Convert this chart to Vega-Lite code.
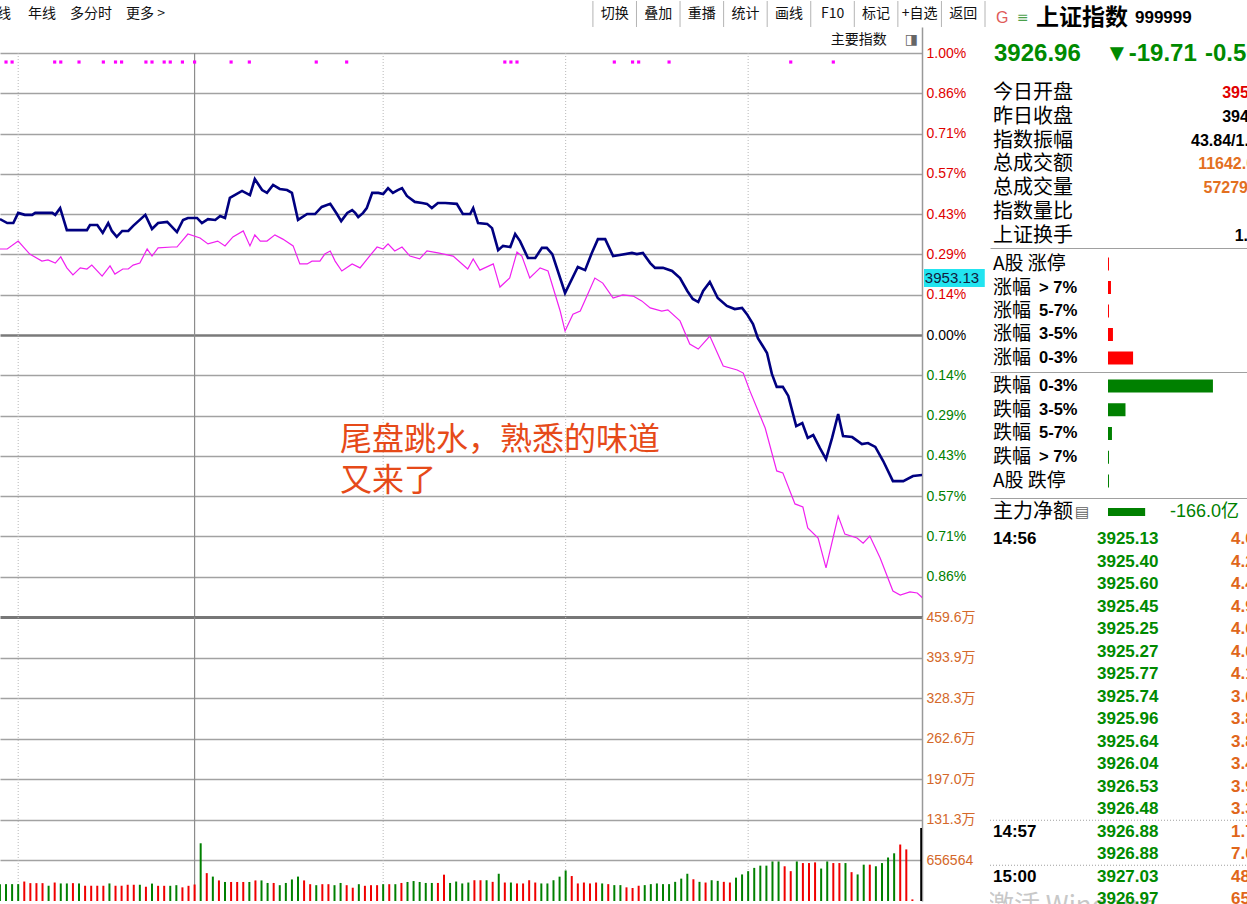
{
  "$schema": "https://vega.github.io/schema/vega-lite/v6.json",
  "background": "#ffffff",
  "padding": 0,
  "autosize": {"type": "pad"},
  "config": {"view": {"stroke": null}},
  "datasets": {
    "index": [{"m":88.0,"pct":0.411},{"m":89.2,"pct":0.397},{"m":90.2,"pct":0.397},{"m":91.0,"pct":0.433},{"m":92.1,"pct":0.426},{"m":93.3,"pct":0.426},{"m":93.8,"pct":0.433},{"m":96.6,"pct":0.433},{"m":97.1,"pct":0.426},{"m":97.9,"pct":0.45},{"m":99.0,"pct":0.372},{"m":102.3,"pct":0.372},{"m":102.8,"pct":0.39},{"m":104.0,"pct":0.39},{"m":104.9,"pct":0.362},{"m":105.8,"pct":0.397},{"m":106.4,"pct":0.369},{"m":107.2,"pct":0.348},{"m":108.1,"pct":0.369},{"m":109.1,"pct":0.369},{"m":109.9,"pct":0.387},{"m":111.9,"pct":0.426},{"m":113.0,"pct":0.376},{"m":114.0,"pct":0.397},{"m":115.5,"pct":0.401},{"m":117.1,"pct":0.365},{"m":118.1,"pct":0.408},{"m":118.9,"pct":0.415},{"m":120.4,"pct":0.415},{"m":121.2,"pct":0.397},{"m":122.2,"pct":0.411},{"m":123.4,"pct":0.408},{"m":124.2,"pct":0.422},{"m":125.0,"pct":0.415},{"m":125.8,"pct":0.486},{"m":127.8,"pct":0.511},{"m":129.1,"pct":0.496},{"m":129.9,"pct":0.553},{"m":131.1,"pct":0.514},{"m":131.9,"pct":0.504},{"m":132.9,"pct":0.532},{"m":134.0,"pct":0.518},{"m":135.2,"pct":0.514},{"m":136.0,"pct":0.504},{"m":137.0,"pct":0.408},{"m":138.5,"pct":0.429},{"m":139.8,"pct":0.429},{"m":140.9,"pct":0.454},{"m":142.3,"pct":0.465},{"m":143.4,"pct":0.429},{"m":144.1,"pct":0.404},{"m":145.1,"pct":0.433},{"m":145.9,"pct":0.443},{"m":146.4,"pct":0.433},{"m":146.9,"pct":0.418},{"m":147.7,"pct":0.433},{"m":148.3,"pct":0.45},{"m":149.2,"pct":0.504},{"m":150.2,"pct":0.504},{"m":151.0,"pct":0.5},{"m":151.8,"pct":0.521},{"m":152.6,"pct":0.504},{"m":153.4,"pct":0.514},{"m":154.1,"pct":0.521},{"m":154.9,"pct":0.493},{"m":156.2,"pct":0.472},{"m":157.4,"pct":0.468},{"m":158.2,"pct":0.465},{"m":159.0,"pct":0.45},{"m":160.0,"pct":0.468},{"m":161.2,"pct":0.468},{"m":163.1,"pct":0.465},{"m":164.1,"pct":0.429},{"m":165.3,"pct":0.429},{"m":165.8,"pct":0.45},{"m":166.6,"pct":0.397},{"m":168.1,"pct":0.394},{"m":168.9,"pct":0.379},{"m":169.9,"pct":0.301},{"m":170.7,"pct":0.316},{"m":171.9,"pct":0.312},{"m":172.7,"pct":0.358},{"m":173.5,"pct":0.333},{"m":174.8,"pct":0.273},{"m":176.0,"pct":0.273},{"m":177.1,"pct":0.309},{"m":177.9,"pct":0.309},{"m":178.8,"pct":0.287},{"m":180.9,"pct":0.149},{"m":183.0,"pct":0.241},{"m":184.2,"pct":0.23},{"m":185.3,"pct":0.291},{"m":186.3,"pct":0.34},{"m":187.5,"pct":0.34},{"m":188.8,"pct":0.28},{"m":189.9,"pct":0.284},{"m":191.9,"pct":0.291},{"m":192.7,"pct":0.287},{"m":193.7,"pct":0.291},{"m":194.9,"pct":0.255},{"m":195.7,"pct":0.238},{"m":197.0,"pct":0.238},{"m":198.5,"pct":0.227},{"m":199.8,"pct":0.202},{"m":201.0,"pct":0.156},{"m":201.9,"pct":0.128},{"m":202.8,"pct":0.117},{"m":203.6,"pct":0.156},{"m":204.7,"pct":0.188},{"m":206.0,"pct":0.131},{"m":207.5,"pct":0.103},{"m":208.8,"pct":0.092},{"m":210.0,"pct":0.096},{"m":210.8,"pct":0.074},{"m":211.8,"pct":0.039},{"m":212.6,"pct":-0.011},{"m":213.4,"pct":-0.039},{"m":214.1,"pct":-0.064},{"m":214.9,"pct":-0.138},{"m":215.7,"pct":-0.184},{"m":216.7,"pct":-0.184},{"m":217.6,"pct":-0.216},{"m":218.9,"pct":-0.323},{"m":219.9,"pct":-0.312},{"m":220.8,"pct":-0.365},{"m":221.7,"pct":-0.355},{"m":222.8,"pct":-0.401},{"m":223.8,"pct":-0.44},{"m":224.8,"pct":-0.365},{"m":225.8,"pct":-0.28},{"m":226.6,"pct":-0.358},{"m":228.1,"pct":-0.362},{"m":229.7,"pct":-0.387},{"m":230.7,"pct":-0.383},{"m":231.9,"pct":-0.397},{"m":233.2,"pct":-0.447},{"m":234.8,"pct":-0.518},{"m":236.5,"pct":-0.518},{"m":238.1,"pct":-0.5},{"m":239.7,"pct":-0.496}],
    "equal": [{"m":88.0,"pct":0.305},{"m":89.2,"pct":0.305},{"m":91.0,"pct":0.333},{"m":92.9,"pct":0.287},{"m":94.9,"pct":0.262},{"m":95.9,"pct":0.266},{"m":97.1,"pct":0.255},{"m":98.0,"pct":0.277},{"m":99.0,"pct":0.238},{"m":100.0,"pct":0.213},{"m":101.2,"pct":0.238},{"m":102.3,"pct":0.234},{"m":103.1,"pct":0.248},{"m":104.8,"pct":0.209},{"m":106.1,"pct":0.245},{"m":106.9,"pct":0.216},{"m":108.2,"pct":0.234},{"m":109.1,"pct":0.234},{"m":109.9,"pct":0.248},{"m":111.0,"pct":0.255},{"m":112.2,"pct":0.305},{"m":113.0,"pct":0.28},{"m":114.0,"pct":0.309},{"m":116.3,"pct":0.312},{"m":117.1,"pct":0.312},{"m":118.9,"pct":0.358},{"m":120.9,"pct":0.344},{"m":122.2,"pct":0.323},{"m":123.8,"pct":0.333},{"m":125.0,"pct":0.316},{"m":126.3,"pct":0.348},{"m":128.0,"pct":0.369},{"m":129.1,"pct":0.316},{"m":129.9,"pct":0.355},{"m":130.8,"pct":0.333},{"m":131.9,"pct":0.333},{"m":133.2,"pct":0.355},{"m":134.5,"pct":0.34},{"m":136.2,"pct":0.316},{"m":137.3,"pct":0.252},{"m":138.5,"pct":0.252},{"m":139.3,"pct":0.262},{"m":140.6,"pct":0.262},{"m":141.4,"pct":0.287},{"m":142.3,"pct":0.298},{"m":143.1,"pct":0.262},{"m":144.2,"pct":0.227},{"m":145.9,"pct":0.252},{"m":147.2,"pct":0.238},{"m":148.5,"pct":0.273},{"m":150.0,"pct":0.312},{"m":151.0,"pct":0.305},{"m":151.8,"pct":0.323},{"m":152.9,"pct":0.298},{"m":154.1,"pct":0.312},{"m":155.4,"pct":0.28},{"m":157.0,"pct":0.27},{"m":158.2,"pct":0.298},{"m":160.0,"pct":0.291},{"m":162.5,"pct":0.28},{"m":164.9,"pct":0.234},{"m":165.8,"pct":0.27},{"m":166.9,"pct":0.23},{"m":169.1,"pct":0.252},{"m":170.2,"pct":0.17},{"m":171.8,"pct":0.202},{"m":173.0,"pct":0.294},{"m":173.8,"pct":0.28},{"m":175.1,"pct":0.202},{"m":176.8,"pct":0.238},{"m":178.1,"pct":0.227},{"m":180.1,"pct":0.085},{"m":180.9,"pct":0.014},{"m":182.2,"pct":0.074},{"m":183.4,"pct":0.085},{"m":184.5,"pct":0.138},{"m":185.8,"pct":0.202},{"m":187.1,"pct":0.184},{"m":188.8,"pct":0.131},{"m":190.4,"pct":0.142},{"m":192.1,"pct":0.138},{"m":193.5,"pct":0.121},{"m":194.9,"pct":0.096},{"m":196.8,"pct":0.085},{"m":197.8,"pct":0.089},{"m":199.8,"pct":0.05},{"m":201.4,"pct":-0.032},{"m":202.8,"pct":-0.05},{"m":204.7,"pct":-0.004},{"m":206.9,"pct":-0.11},{"m":209.2,"pct":-0.124},{"m":210.2,"pct":-0.135},{"m":211.3,"pct":-0.199},{"m":213.8,"pct":-0.33},{"m":215.7,"pct":-0.482},{"m":216.7,"pct":-0.489},{"m":218.7,"pct":-0.599},{"m":220.0,"pct":-0.61},{"m":220.8,"pct":-0.684},{"m":222.5,"pct":-0.72},{"m":223.8,"pct":-0.826},{"m":225.8,"pct":-0.642},{"m":226.9,"pct":-0.706},{"m":228.9,"pct":-0.72},{"m":229.9,"pct":-0.738},{"m":231.0,"pct":-0.713},{"m":232.7,"pct":-0.791},{"m":234.8,"pct":-0.908},{"m":236.0,"pct":-0.922},{"m":237.6,"pct":-0.911},{"m":238.8,"pct":-0.915},{"m":239.7,"pct":-0.933}],
    "signals": [{"m":89},{"m":90},{"m":97},{"m":98},{"m":101},{"m":105},{"m":107},{"m":108},{"m":112},{"m":113},{"m":115},{"m":116},{"m":118},{"m":120},{"m":126},{"m":129},{"m":140},{"m":145},{"m":171},{"m":172},{"m":173},{"m":189},{"m":192},{"m":193},{"m":198},{"m":218},{"m":225}],
    "volume": [{"m":88,"vol":27.3,"dir":"down"},{"m":89,"vol":27.3,"dir":"down"},{"m":90,"vol":27.3,"dir":"down"},{"m":91,"vol":27.3,"dir":"down"},{"m":92,"vol":31.5,"dir":"up"},{"m":93,"vol":28.9,"dir":"up"},{"m":94,"vol":28.9,"dir":"up"},{"m":95,"vol":28.9,"dir":"up"},{"m":96,"vol":24.7,"dir":"down"},{"m":97,"vol":29.9,"dir":"up"},{"m":98,"vol":28.4,"dir":"down"},{"m":99,"vol":28.4,"dir":"down"},{"m":100,"vol":28.9,"dir":"up"},{"m":101,"vol":28.4,"dir":"down"},{"m":102,"vol":24.7,"dir":"up"},{"m":103,"vol":24.7,"dir":"up"},{"m":104,"vol":24.7,"dir":"up"},{"m":105,"vol":24.7,"dir":"up"},{"m":106,"vol":28.4,"dir":"down"},{"m":107,"vol":24.7,"dir":"up"},{"m":108,"vol":24.7,"dir":"up"},{"m":109,"vol":26.3,"dir":"up"},{"m":110,"vol":26.3,"dir":"up"},{"m":111,"vol":26.3,"dir":"down"},{"m":112,"vol":23.1,"dir":"up"},{"m":113,"vol":28.2,"dir":"down"},{"m":114,"vol":24.6,"dir":"up"},{"m":115,"vol":24.6,"dir":"up"},{"m":116,"vol":24.6,"dir":"down"},{"m":117,"vol":25.6,"dir":"down"},{"m":118,"vol":22.1,"dir":"up"},{"m":119,"vol":24.6,"dir":"up"},{"m":120,"vol":26.7,"dir":"up"},{"m":121,"vol":93.4,"dir":"down"},{"m":122,"vol":45.1,"dir":"up"},{"m":123,"vol":39.5,"dir":"down"},{"m":124,"vol":33.3,"dir":"up"},{"m":125,"vol":30.8,"dir":"down"},{"m":126,"vol":30.8,"dir":"up"},{"m":127,"vol":30.8,"dir":"up"},{"m":128,"vol":30.8,"dir":"up"},{"m":129,"vol":30.8,"dir":"down"},{"m":130,"vol":33.3,"dir":"up"},{"m":131,"vol":33.3,"dir":"down"},{"m":132,"vol":29.2,"dir":"down"},{"m":133,"vol":29.2,"dir":"up"},{"m":134,"vol":25.6,"dir":"down"},{"m":135,"vol":29.2,"dir":"down"},{"m":136,"vol":34.9,"dir":"down"},{"m":137,"vol":39.5,"dir":"down"},{"m":138,"vol":33.3,"dir":"up"},{"m":139,"vol":27.2,"dir":"up"},{"m":140,"vol":25.6,"dir":"down"},{"m":141,"vol":27.2,"dir":"up"},{"m":142,"vol":27.2,"dir":"up"},{"m":143,"vol":25.6,"dir":"down"},{"m":144,"vol":29.2,"dir":"down"},{"m":145,"vol":25.6,"dir":"up"},{"m":146,"vol":21.5,"dir":"up"},{"m":147,"vol":27.2,"dir":"down"},{"m":148,"vol":24.6,"dir":"up"},{"m":149,"vol":25.6,"dir":"up"},{"m":150,"vol":25.6,"dir":"up"},{"m":151,"vol":27.2,"dir":"down"},{"m":152,"vol":27.2,"dir":"up"},{"m":153,"vol":27.2,"dir":"down"},{"m":154,"vol":29.2,"dir":"up"},{"m":155,"vol":30.8,"dir":"down"},{"m":156,"vol":32.3,"dir":"down"},{"m":157,"vol":30.8,"dir":"down"},{"m":158,"vol":29.2,"dir":"down"},{"m":159,"vol":29.2,"dir":"down"},{"m":160,"vol":29.2,"dir":"up"},{"m":161,"vol":42.6,"dir":"up"},{"m":162,"vol":29.2,"dir":"down"},{"m":163,"vol":31.5,"dir":"down"},{"m":164,"vol":28.4,"dir":"down"},{"m":165,"vol":29.9,"dir":"down"},{"m":166,"vol":33.6,"dir":"up"},{"m":167,"vol":33.6,"dir":"up"},{"m":168,"vol":33.6,"dir":"down"},{"m":169,"vol":31.0,"dir":"up"},{"m":170,"vol":44.1,"dir":"down"},{"m":171,"vol":29.9,"dir":"up"},{"m":172,"vol":29.9,"dir":"down"},{"m":173,"vol":28.4,"dir":"up"},{"m":174,"vol":28.4,"dir":"up"},{"m":175,"vol":33.6,"dir":"up"},{"m":176,"vol":29.9,"dir":"up"},{"m":177,"vol":28.4,"dir":"down"},{"m":178,"vol":28.4,"dir":"down"},{"m":179,"vol":33.6,"dir":"down"},{"m":180,"vol":39.4,"dir":"down"},{"m":181,"vol":49.4,"dir":"down"},{"m":182,"vol":40.4,"dir":"up"},{"m":183,"vol":28.4,"dir":"up"},{"m":184,"vol":29.9,"dir":"up"},{"m":185,"vol":28.4,"dir":"up"},{"m":186,"vol":29.9,"dir":"up"},{"m":187,"vol":28.4,"dir":"down"},{"m":188,"vol":27.3,"dir":"up"},{"m":189,"vol":25.7,"dir":"down"},{"m":190,"vol":25.7,"dir":"down"},{"m":191,"vol":22.1,"dir":"up"},{"m":192,"vol":21.0,"dir":"up"},{"m":193,"vol":24.7,"dir":"up"},{"m":194,"vol":25.7,"dir":"down"},{"m":195,"vol":27.3,"dir":"down"},{"m":196,"vol":28.4,"dir":"down"},{"m":197,"vol":27.3,"dir":"down"},{"m":198,"vol":27.3,"dir":"down"},{"m":199,"vol":31.0,"dir":"down"},{"m":200,"vol":36.2,"dir":"down"},{"m":201,"vol":44.1,"dir":"down"},{"m":202,"vol":35.2,"dir":"up"},{"m":203,"vol":31.0,"dir":"down"},{"m":204,"vol":29.9,"dir":"up"},{"m":205,"vol":33.6,"dir":"down"},{"m":206,"vol":32.6,"dir":"down"},{"m":207,"vol":31.0,"dir":"up"},{"m":208,"vol":29.9,"dir":"up"},{"m":209,"vol":37.8,"dir":"down"},{"m":210,"vol":43.0,"dir":"down"},{"m":211,"vol":48.3,"dir":"down"},{"m":212,"vol":53.6,"dir":"down"},{"m":213,"vol":57.2,"dir":"down"},{"m":214,"vol":57.2,"dir":"down"},{"m":215,"vol":64.0,"dir":"down"},{"m":216,"vol":64.0,"dir":"down"},{"m":217,"vol":56.2,"dir":"up"},{"m":218,"vol":48.3,"dir":"up"},{"m":219,"vol":64.0,"dir":"down"},{"m":220,"vol":61.4,"dir":"up"},{"m":221,"vol":61.4,"dir":"up"},{"m":222,"vol":62.5,"dir":"up"},{"m":223,"vol":52.5,"dir":"down"},{"m":224,"vol":64.0,"dir":"down"},{"m":225,"vol":61.4,"dir":"up"},{"m":226,"vol":61.4,"dir":"up"},{"m":227,"vol":61.4,"dir":"down"},{"m":228,"vol":46.7,"dir":"up"},{"m":229,"vol":43.0,"dir":"down"},{"m":230,"vol":58.8,"dir":"down"},{"m":231,"vol":58.8,"dir":"up"},{"m":232,"vol":56.2,"dir":"down"},{"m":233,"vol":61.4,"dir":"down"},{"m":234,"vol":70.4,"dir":"down"},{"m":235,"vol":77.2,"dir":"down"},{"m":236,"vol":91.4,"dir":"up"},{"m":237,"vol":83.5,"dir":"up"},{"m":238,"vol":2.6,"dir":"up"},{"m":239.45,"vol":118,"dir":"flat"}]
  },
  "spacing": 3,
  "hconcat": [
    {
      "spacing": 0,
      "bounds": "flush",
      "vconcat": [
        {
          "width": 985,
          "height": 26,
          "data": {"values": [{"slot":0,"label":"切换"},{"slot":1,"label":"叠加"},{"slot":2,"label":"重播"},{"slot":3,"label":"统计"},{"slot":4,"label":"画线"},{"slot":5,"label":"F10"},{"slot":6,"label":"标记"},{"slot":7,"label":"+自选"},{"slot":8,"label":"返回"},{"slot":9,"label":""}]},
          "layer": [
            {
              "mark": {"type": "rule", "color": "#b4b4b4", "strokeWidth": 1},
              "encoding": {
                "x": {"field": "slot", "type": "quantitative", "scale": {"domain": [-13.61, 9], "nice": false, "zero": false},
                      "axis": {"orient": "bottom", "domain": true, "domainColor": "#a0a0a0", "labels": false, "ticks": false, "grid": false, "title": null}}
              }
            },
            {
              "transform": [{"filter": "datum.label != ''"}],
              "mark": {"type": "text", "dx": 21.8, "font": "Noto Sans CJK SC", "fontSize": 14, "color": "#111111"},
              "encoding": {
                "x": {"field": "slot", "type": "quantitative", "scale": {"domain": [-13.61, 9], "nice": false, "zero": false}, "axis": null},
                "text": {"field": "label"}
              }
            },
            {
              "data": {"values": [{"menu": "线\u3000\u00a0年线\u3000多分时\u3000更多\u00a0>"}]},
              "mark": {"type": "text", "align": "left", "clip": true, "font": "Noto Sans CJK SC", "fontSize": 14, "color": "#111111"},
              "encoding": {
                "x": {"datum": -13.68, "type": "quantitative", "scale": {"domain": [-13.61, 9], "nice": false, "zero": false}, "axis": null},
                "text": {"field": "menu"}
              }
            }
          ]
        },
        {
          "width": 922,
          "height": 590,
          "resolve": {"axis": {"y": "independent", "x": "independent"}},
          "layer": [
            {
              "data": {"values": [{"m":91},{"m":151},{"m":181},{"m":211}]},
              "mark": {"type": "rule", "color": "#b8b8b8", "strokeDash": [1, 2], "strokeWidth": 1},
              "encoding": {
                "x": {"field": "m", "type": "quantitative", "scale": {"domain": [88.01, 239.58], "nice": false, "zero": false}, "axis": null},
                "y": {"datum": 1, "type": "quantitative", "scale": {"domain": [-1, 1.0922], "nice": false, "zero": false}, "axis": null},
                "y2": {"datum": -1}
              }
            },
            {
              "data": {"values": [{"m":120}]},
              "mark": {"type": "rule", "color": "#8c8c8c", "strokeWidth": 1.2},
              "encoding": {
                "x": {"field": "m", "type": "quantitative", "scale": {"domain": [88.01, 239.58], "nice": false, "zero": false}, "axis": null},
                "y": {"datum": 1, "type": "quantitative", "scale": {"domain": [-1, 1.0922], "nice": false, "zero": false}, "axis": null},
                "y2": {"datum": -1}
              }
            },
            {
              "data": {"name": "equal"},
              "mark": {"type": "line", "color": "#f020f0", "strokeWidth": 1.2, "clip": true},
              "encoding": {
                "x": {"field": "m", "type": "quantitative", "scale": {"domain": [88.01, 239.58], "nice": false, "zero": false}, "axis": null},
                "y": {"field": "pct", "type": "quantitative", "scale": {"domain": [-1, 1.0922], "nice": false, "zero": false}, "axis": null}
              }
            },
            {
              "data": {"name": "index"},
              "mark": {"type": "line", "color": "#000080", "strokeWidth": 2.6, "clip": true},
              "encoding": {
                "x": {"field": "m", "type": "quantitative", "scale": {"domain": [88.01, 239.58], "nice": false, "zero": false}, "axis": null},
                "y": {"field": "pct", "type": "quantitative", "scale": {"domain": [-1, 1.0922], "nice": false, "zero": false},
                      "axis": {
                        "orient": "right", "title": null,
                        "values": [-0.857142857, -0.714285714, -0.571428571, -0.428571429, -0.285714286, -0.142857143, 0, 0.142857143, 0.285714286, 0.428571429, 0.571428571, 0.714285714, 0.857142857, 1],
                        "labelExpr": "format(abs(datum.value), '.2f') + '%'",
                        "labelFont": "Liberation Sans", "labelFontSize": 14, "labelPadding": 4,
                        "labelColor": {"condition": [{"test": "datum.value > 0.0001", "value": "#e00000"}, {"test": "datum.value < -0.0001", "value": "#008000"}], "value": "#000000"},
                        "ticks": false, "domain": true, "domainColor": "#999999", "domainWidth": 1.5,
                        "grid": true,
                        "gridColor": {"condition": {"test": "abs(datum.value) < 0.0001", "value": "#7a7a7a"}, "value": "#a2a2a2"},
                        "gridWidth": {"condition": {"test": "abs(datum.value) < 0.0001", "value": 2.4}, "value": 1.7}
                      }}
              }
            },
            {
              "data": {"name": "signals"},
              "mark": {"type": "square", "size": 10, "color": "#ff00ff", "opacity": 1, "filled": true},
              "encoding": {
                "x": {"field": "m", "type": "quantitative", "scale": {"domain": [88.01, 239.58], "nice": false, "zero": false}, "axis": null},
                "y": {"datum": 0.968, "type": "quantitative", "scale": {"domain": [-1, 1.0922], "nice": false, "zero": false}, "axis": null}
              }
            },
            {
              "data": {"values": [{"note": "尾盘跳水，熟悉的味道\n又来了"}]},
              "mark": {"type": "text", "align": "left", "baseline": "top", "lineBreak": "\n", "lineHeight": 41, "font": "Noto Sans CJK SC", "fontSize": 32, "color": "#e64a19"},
              "encoding": {
                "x": {"datum": 143.9, "type": "quantitative", "scale": {"domain": [88.01, 239.58], "nice": false, "zero": false}, "axis": null},
                "y": {"datum": -0.319, "type": "quantitative", "scale": {"domain": [-1, 1.0922], "nice": false, "zero": false}, "axis": null},
                "text": {"field": "note"}
              }
            },
            {
              "data": {"values": [{"t": "主要指数"}]},
              "mark": {"type": "text", "align": "right", "font": "Noto Sans CJK SC", "fontSize": 14, "color": "#111111"},
              "encoding": {
                "x": {"datum": 233.8, "type": "quantitative", "scale": {"domain": [88.01, 239.58], "nice": false, "zero": false}, "axis": null},
                "y": {"datum": 1.046, "type": "quantitative", "scale": {"domain": [-1, 1.0922], "nice": false, "zero": false}, "axis": null},
                "text": {"field": "t"}
              }
            },
            {
              "data": {"values": [{"t": "◨"}]},
              "mark": {"type": "text", "font": "DejaVu Sans", "fontSize": 14, "color": "#666666"},
              "encoding": {
                "x": {"datum": 237.85, "type": "quantitative", "scale": {"domain": [88.01, 239.58], "nice": false, "zero": false}, "axis": null},
                "y": {"datum": 1.046, "type": "quantitative", "scale": {"domain": [-1, 1.0922], "nice": false, "zero": false}, "axis": null},
                "text": {"field": "t"}
              }
            },
            {
              "data": {"values": [{"price": "3953.13"}]},
              "mark": {"type": "rect", "color": "#22e4f0"},
              "encoding": {
                "x": {"datum": 239.91, "type": "quantitative", "scale": {"domain": [88.01, 239.58], "nice": false, "zero": false}, "axis": null},
                "x2": {"datum": 249.9},
                "y": {"datum": 0.234, "type": "quantitative", "scale": {"domain": [-1, 1.0922], "nice": false, "zero": false}, "axis": null},
                "y2": {"datum": 0.17}
              }
            },
            {
              "data": {"values": [{"price": "3953.13"}]},
              "mark": {"type": "text", "align": "left", "font": "Liberation Sans", "fontSize": 15, "color": "#102040"},
              "encoding": {
                "x": {"datum": 240.05, "type": "quantitative", "scale": {"domain": [88.01, 239.58], "nice": false, "zero": false}, "axis": null},
                "y": {"datum": 0.202, "type": "quantitative", "scale": {"domain": [-1, 1.0922], "nice": false, "zero": false}, "axis": null},
                "text": {"field": "price"}
              }
            }
          ]
        },
        {
          "width": 922,
          "height": 284,
          "layer": [
            {
              "data": {"values": [{"m":91},{"m":151},{"m":181},{"m":211}]},
              "mark": {"type": "rule", "color": "#b8b8b8", "strokeDash": [1, 2], "strokeWidth": 1},
              "encoding": {
                "x": {"field": "m", "type": "quantitative", "scale": {"domain": [88.01, 239.58], "nice": false, "zero": false}, "axis": null}
              }
            },
            {
              "data": {"values": [{"m":120}]},
              "mark": {"type": "rule", "color": "#8c8c8c", "strokeWidth": 1.2},
              "encoding": {
                "x": {"field": "m", "type": "quantitative", "scale": {"domain": [88.01, 239.58], "nice": false, "zero": false}, "axis": null}
              }
            },
            {
              "data": {"name": "volume"},
              "mark": {"type": "rule", "strokeWidth": 2, "clip": true},
              "encoding": {
                "x": {"field": "m", "type": "quantitative", "scale": {"domain": [88.01, 239.58], "nice": false, "zero": false},
                      "axis": {"orient": "bottom", "domain": true, "domainColor": "#a0a0a0", "labels": false, "ticks": false, "grid": false, "title": null}},
                "y": {"field": "vol", "type": "quantitative", "scale": {"domain": [0, 459.5948], "nice": false, "zero": false},
                      "axis": {
                        "orient": "right", "title": null,
                        "values": [65.6564, 131.3128, 196.9692, 262.6256, 328.282, 393.9384, 459.5948],
                        "labelExpr": "datum.value < 100 ? format(datum.value * 10000, 'd') : format(datum.value, '.1f') + '万'",
                        "labelFont": "Liberation Sans, Noto Sans CJK SC", "labelFontSize": 14, "labelPadding": 4, "labelColor": "#d4682a",
                        "ticks": false, "domain": true, "domainColor": "#999999", "domainWidth": 1.5,
                        "grid": true,
                        "gridColor": {"condition": {"test": "datum.value > 459", "value": "#777777"}, "value": "#a2a2a2"},
                        "gridWidth": {"condition": {"test": "datum.value > 459", "value": 2.8}, "value": 1.7}
                      }},
                "y2": {"datum": 0},
                "color": {"field": "dir", "type": "nominal", "scale": {"domain": ["up", "down", "flat"], "range": ["#f00000", "#008000", "#000000"]}, "legend": null}
              }
            }
          ]
        }
      ]
    },
    {
      "spacing": 0,
      "bounds": "flush",
      "vconcat": [
        {
          "width": 259,
          "height": 78,
          "layer": [
            {
              "data": {"values": [{"row": 0, "t": "G"}]},
              "mark": {"type": "text", "align": "left", "font": "Liberation Sans", "fontSize": 16, "color": "#e05a5a"},
              "encoding": {
                "x": {"datum": 6, "type": "quantitative", "scale": {"domain": [0, 259], "nice": false, "zero": false}, "axis": null},
                "y": {"field": "row", "type": "quantitative", "scale": {"domain": [-0.472, 1.694], "reverse": true, "nice": false, "zero": false},
                      "axis": {"orient": "left", "domain": true, "domainColor": "#a0a0a0", "labels": false, "ticks": false, "grid": false, "title": null}},
                "text": {"field": "t"}
              }
            },
            {
              "data": {"values": [{"row": 0, "t": "≡"}]},
              "mark": {"type": "text", "align": "left", "font": "DejaVu Sans", "fontSize": 14, "color": "#4aa04a"},
              "encoding": {
                "x": {"datum": 27, "type": "quantitative", "scale": {"domain": [0, 259], "nice": false, "zero": false}, "axis": null},
                "y": {"field": "row", "type": "quantitative", "scale": {"domain": [-0.472, 1.694], "reverse": true, "nice": false, "zero": false}, "axis": null},
                "text": {"field": "t"}
              }
            },
            {
              "data": {"values": [{"row": 0, "t": "上证指数"}]},
              "mark": {"type": "text", "align": "left", "font": "Noto Sans CJK SC", "fontSize": 23, "fontWeight": "bold", "color": "#000000"},
              "encoding": {
                "x": {"datum": 46, "type": "quantitative", "scale": {"domain": [0, 259], "nice": false, "zero": false}, "axis": null},
                "y": {"field": "row", "type": "quantitative", "scale": {"domain": [-0.472, 1.694], "reverse": true, "nice": false, "zero": false}, "axis": null},
                "text": {"field": "t"}
              }
            },
            {
              "data": {"values": [{"row": 0, "t": "999999"}]},
              "mark": {"type": "text", "align": "left", "font": "Liberation Sans", "fontSize": 17, "fontWeight": "bold", "color": "#000000"},
              "encoding": {
                "x": {"datum": 145, "type": "quantitative", "scale": {"domain": [0, 259], "nice": false, "zero": false}, "axis": null},
                "y": {"field": "row", "type": "quantitative", "scale": {"domain": [-0.472, 1.694], "reverse": true, "nice": false, "zero": false}, "axis": null},
                "text": {"field": "t"}
              }
            },
            {
              "data": {"values": [{"row": 1, "t": "3926.96"}]},
              "mark": {"type": "text", "align": "left", "font": "Liberation Sans", "fontSize": 24, "fontWeight": "bold", "color": "#008a00"},
              "encoding": {
                "x": {"datum": 4, "type": "quantitative", "scale": {"domain": [0, 259], "nice": false, "zero": false}, "axis": null},
                "y": {"field": "row", "type": "quantitative", "scale": {"domain": [-0.472, 1.694], "reverse": true, "nice": false, "zero": false}, "axis": null},
                "text": {"field": "t"}
              }
            },
            {
              "data": {"values": [{"row": 1, "t": "▼-19.71"}]},
              "mark": {"type": "text", "align": "left", "font": "Liberation Sans", "fontSize": 24, "fontWeight": "bold", "color": "#008a00"},
              "encoding": {
                "x": {"datum": 115, "type": "quantitative", "scale": {"domain": [0, 259], "nice": false, "zero": false}, "axis": null},
                "y": {"field": "row", "type": "quantitative", "scale": {"domain": [-0.472, 1.694], "reverse": true, "nice": false, "zero": false}, "axis": null},
                "text": {"field": "t"}
              }
            },
            {
              "data": {"values": [{"row": 1, "t": "-0.50%"}]},
              "mark": {"type": "text", "align": "left", "clip": true, "font": "Liberation Sans", "fontSize": 24, "fontWeight": "bold", "color": "#008a00"},
              "encoding": {
                "x": {"datum": 215, "type": "quantitative", "scale": {"domain": [0, 259], "nice": false, "zero": false}, "axis": null},
                "y": {"field": "row", "type": "quantitative", "scale": {"domain": [-0.472, 1.694], "reverse": true, "nice": false, "zero": false}, "axis": null},
                "text": {"field": "t"}
              }
            }
          ]
        },
        {
          "width": 259,
          "height": 169,
          "data": {"values": [
            {"row": 0, "label": "今日开盘", "value": "3955.63", "tone": "up"},
            {"row": 1, "label": "昨日收盘", "value": "3946.67", "tone": "flat"},
            {"row": 2, "label": "指数振幅", "value": "43.84/1.11%", "tone": "flat"},
            {"row": 3, "label": "总成交额", "value": "11642.08亿", "tone": "amount"},
            {"row": 4, "label": "总成交量", "value": "57279万手", "tone": "amount"},
            {"row": 5, "label": "指数量比", "value": "", "tone": "flat"},
            {"row": 6, "label": "上证换手", "value": "1.05%", "tone": "flat"}
          ]},
          "layer": [
            {
              "mark": {"type": "text", "align": "left", "font": "Noto Sans CJK SC", "fontSize": 20, "color": "#000000"},
              "encoding": {
                "x": {"datum": 3, "type": "quantitative", "scale": {"domain": [0, 259], "nice": false, "zero": false},
                      "axis": {"orient": "top", "domain": true, "domainColor": "#a0a0a0", "labels": false, "ticks": false, "grid": false, "title": null}},
                "y": {"field": "row", "type": "quantitative", "scale": {"domain": [-0.587, 6.505], "reverse": true, "nice": false, "zero": false},
                      "axis": {"orient": "left", "domain": true, "domainColor": "#a0a0a0", "labels": false, "ticks": false, "grid": false, "title": null}},
                "text": {"field": "label"}
              }
            },
            {
              "transform": [{"filter": "datum.tone == 'up'"}],
              "mark": {"type": "text", "align": "right", "clip": true, "font": "Liberation Sans, Noto Sans CJK SC", "fontSize": 16, "fontWeight": "bold", "color": "#e00000"},
              "encoding": {
                "x": {"datum": 290, "type": "quantitative", "scale": {"domain": [0, 259], "nice": false, "zero": false}, "axis": null},
                "y": {"field": "row", "type": "quantitative", "scale": {"domain": [-0.587, 6.505], "reverse": true, "nice": false, "zero": false}, "axis": null},
                "text": {"field": "value"}
              }
            },
            {
              "transform": [{"filter": "datum.tone == 'flat'"}],
              "mark": {"type": "text", "align": "right", "clip": true, "font": "Liberation Sans, Noto Sans CJK SC", "fontSize": 16, "fontWeight": "bold", "color": "#000000"},
              "encoding": {
                "x": {"datum": 290, "type": "quantitative", "scale": {"domain": [0, 259], "nice": false, "zero": false}, "axis": null},
                "y": {"field": "row", "type": "quantitative", "scale": {"domain": [-0.587, 6.505], "reverse": true, "nice": false, "zero": false}, "axis": null},
                "text": {"field": "value"}
              }
            },
            {
              "transform": [{"filter": "datum.tone == 'amount'"}],
              "mark": {"type": "text", "align": "right", "clip": true, "font": "Liberation Sans, Noto Sans CJK SC", "fontSize": 16, "fontWeight": "bold", "color": "#e3701f"},
              "encoding": {
                "x": {"datum": 290, "type": "quantitative", "scale": {"domain": [0, 259], "nice": false, "zero": false}, "axis": null},
                "y": {"field": "row", "type": "quantitative", "scale": {"domain": [-0.587, 6.505], "reverse": true, "nice": false, "zero": false}, "axis": null},
                "text": {"field": "value"}
              }
            }
          ]
        },
        {
          "width": 259,
          "height": 124,
          "resolve": {"scale": {"x": "independent"}},
          "data": {"values": [
            {"row": 0, "name": "A股 涨停", "range": "", "count": 30},
            {"row": 1, "name": "涨幅", "range": "> 7%", "count": 90},
            {"row": 2, "name": "涨幅", "range": "5-7%", "count": 30},
            {"row": 3, "name": "涨幅", "range": "3-5%", "count": 150},
            {"row": 4, "name": "涨幅", "range": "0-3%", "count": 760}
          ]},
          "layer": [
            {
              "mark": {"type": "text", "align": "left", "font": "Noto Sans CJK SC", "fontSize": 19, "color": "#000000"},
              "encoding": {
                "x": {"datum": 3, "type": "quantitative", "scale": {"domain": [0, 259], "nice": false, "zero": false},
                      "axis": {"orient": "top", "domain": true, "domainColor": "#a0a0a0", "labels": false, "ticks": false, "grid": false, "title": null}},
                "y": {"field": "row", "type": "quantitative", "scale": {"domain": [-0.681, 4.596], "reverse": true, "nice": false, "zero": false},
                      "axis": {"orient": "left", "domain": true, "domainColor": "#a0a0a0", "labels": false, "ticks": false, "grid": false, "title": null}},
                "text": {"field": "name"}
              }
            },
            {
              "mark": {"type": "text", "align": "left", "font": "Liberation Sans", "fontSize": 16.5, "fontWeight": "bold", "color": "#000000"},
              "encoding": {
                "x": {"datum": 49, "type": "quantitative", "scale": {"domain": [0, 259], "nice": false, "zero": false}, "axis": null},
                "y": {"field": "row", "type": "quantitative", "scale": {"domain": [-0.681, 4.596], "reverse": true, "nice": false, "zero": false}, "axis": null},
                "text": {"field": "range"}
              }
            },
            {
              "mark": {"type": "rule", "strokeWidth": 13, "color": "#ff0000"},
              "encoding": {
                "x": {"field": "count", "type": "quantitative", "scale": {"domain": [0, 4273], "range": [118, 259], "nice": false, "zero": false}, "axis": null},
                "x2": {"datum": 0},
                "y": {"field": "row", "type": "quantitative", "scale": {"domain": [-0.681, 4.596], "reverse": true, "nice": false, "zero": false}, "axis": null}
              }
            }
          ]
        },
        {
          "width": 259,
          "height": 126,
          "resolve": {"scale": {"x": "independent"}},
          "data": {"values": [
            {"row": 0, "name": "跌幅", "range": "0-3%", "count": 3180},
            {"row": 1, "name": "跌幅", "range": "3-5%", "count": 530},
            {"row": 2, "name": "跌幅", "range": "5-7%", "count": 120},
            {"row": 3, "name": "跌幅", "range": "> 7%", "count": 30},
            {"row": 4, "name": "A股 跌停", "range": "", "count": 30}
          ]},
          "layer": [
            {
              "mark": {"type": "text", "align": "left", "font": "Noto Sans CJK SC", "fontSize": 19, "color": "#000000"},
              "encoding": {
                "x": {"datum": 3, "type": "quantitative", "scale": {"domain": [0, 259], "nice": false, "zero": false},
                      "axis": {"orient": "top", "domain": true, "domainColor": "#a0a0a0", "labels": false, "ticks": false, "grid": false, "title": null}},
                "y": {"field": "row", "type": "quantitative", "scale": {"domain": [-0.589, 4.716], "reverse": true, "nice": false, "zero": false},
                      "axis": {"orient": "left", "domain": true, "domainColor": "#a0a0a0", "labels": false, "ticks": false, "grid": false, "title": null}},
                "text": {"field": "name"}
              }
            },
            {
              "mark": {"type": "text", "align": "left", "font": "Liberation Sans", "fontSize": 16.5, "fontWeight": "bold", "color": "#000000"},
              "encoding": {
                "x": {"datum": 49, "type": "quantitative", "scale": {"domain": [0, 259], "nice": false, "zero": false}, "axis": null},
                "y": {"field": "row", "type": "quantitative", "scale": {"domain": [-0.589, 4.716], "reverse": true, "nice": false, "zero": false}, "axis": null},
                "text": {"field": "range"}
              }
            },
            {
              "mark": {"type": "rule", "strokeWidth": 13, "color": "#008000"},
              "encoding": {
                "x": {"field": "count", "type": "quantitative", "scale": {"domain": [0, 4273], "range": [118, 259], "nice": false, "zero": false}, "axis": null},
                "x2": {"datum": 0},
                "y": {"field": "row", "type": "quantitative", "scale": {"domain": [-0.589, 4.716], "reverse": true, "nice": false, "zero": false}, "axis": null}
              }
            }
          ]
        },
        {
          "width": 259,
          "height": 28,
          "resolve": {"scale": {"x": "independent"}},
          "data": {"values": [{"name": "主力净额", "net": -166.0, "label": "-166.0亿", "icon": "▤"}]},
          "layer": [
            {
              "mark": {"type": "text", "align": "left", "font": "Noto Sans CJK SC", "fontSize": 20, "color": "#000000"},
              "encoding": {
                "x": {"datum": 3, "type": "quantitative", "scale": {"domain": [0, 259], "nice": false, "zero": false},
                      "axis": {"orient": "top", "domain": true, "domainColor": "#a0a0a0", "labels": false, "ticks": false, "grid": false, "title": null}},
                "y": {"datum": 0, "type": "quantitative", "scale": {"domain": [-1, 1], "nice": false, "zero": false},
                      "axis": {"orient": "left", "domain": true, "domainColor": "#a0a0a0", "labels": false, "ticks": false, "grid": false, "title": null}},
                "text": {"field": "name"}
              }
            },
            {
              "mark": {"type": "text", "font": "DejaVu Sans", "fontSize": 15, "color": "#606060"},
              "encoding": {
                "x": {"datum": 92, "type": "quantitative", "scale": {"domain": [0, 259], "nice": false, "zero": false}, "axis": null},
                "y": {"datum": 0, "type": "quantitative", "scale": {"domain": [-1, 1], "nice": false, "zero": false}, "axis": null},
                "text": {"field": "icon"}
              }
            },
            {
              "mark": {"type": "rule", "strokeWidth": 8, "color": "#008000"},
              "encoding": {
                "x": {"field": "net", "type": "quantitative", "scale": {"domain": [0, -630], "range": [118, 259], "nice": false, "zero": false}, "axis": null},
                "x2": {"datum": 0},
                "y": {"datum": 0, "type": "quantitative", "scale": {"domain": [-1, 1], "nice": false, "zero": false}, "axis": null}
              }
            },
            {
              "mark": {"type": "text", "align": "left", "clip": true, "font": "Liberation Sans, Noto Sans CJK SC", "fontSize": 18, "color": "#008000"},
              "encoding": {
                "x": {"datum": 180, "type": "quantitative", "scale": {"domain": [0, 259], "nice": false, "zero": false}, "axis": null},
                "y": {"datum": 0, "type": "quantitative", "scale": {"domain": [-1, 1], "nice": false, "zero": false}, "axis": null},
                "text": {"field": "label"}
              }
            }
          ]
        },
        {
          "width": 259,
          "height": 379,
          "data": {"values": [
            {"row": 0, "time": "14:56", "price": "3925.13", "vol": "4.65"},
            {"row": 1, "time": "", "price": "3925.40", "vol": "4.21"},
            {"row": 2, "time": "", "price": "3925.60", "vol": "4.43"},
            {"row": 3, "time": "", "price": "3925.45", "vol": "4.90"},
            {"row": 4, "time": "", "price": "3925.25", "vol": "4.66"},
            {"row": 5, "time": "", "price": "3925.27", "vol": "4.02"},
            {"row": 6, "time": "", "price": "3925.77", "vol": "4.18"},
            {"row": 7, "time": "", "price": "3925.74", "vol": "3.67"},
            {"row": 8, "time": "", "price": "3925.96", "vol": "3.85"},
            {"row": 9, "time": "", "price": "3925.64", "vol": "3.82"},
            {"row": 10, "time": "", "price": "3926.04", "vol": "3.47"},
            {"row": 11, "time": "", "price": "3926.53", "vol": "3.92"},
            {"row": 12, "time": "", "price": "3926.48", "vol": "3.31"},
            {"row": 13, "time": "14:57", "price": "3926.88", "vol": "1.72"},
            {"row": 14, "time": "", "price": "3926.88", "vol": "7.03"},
            {"row": 15, "time": "15:00", "price": "3927.03", "vol": "48.6"},
            {"row": 16, "time": "", "price": "3926.97", "vol": "65.2"}
          ]},
          "layer": [
            {
              "data": {"values": [{"t": "激活 Windows"}]},
              "mark": {"type": "text", "align": "left", "clip": true, "font": "Noto Sans CJK SC", "fontSize": 26, "color": "#c8c8c8"},
              "encoding": {
                "x": {"datum": -2, "type": "quantitative", "scale": {"domain": [0, 259], "nice": false, "zero": false}, "axis": null},
                "y": {"datum": 16.3, "type": "quantitative", "scale": {"domain": [-0.578, 16.266], "reverse": true, "nice": false, "zero": false}, "axis": null},
                "text": {"field": "t"}
              }
            },
            {
              "data": {"values": [{"gap": 12.5}, {"gap": 14.5}]},
              "mark": {"type": "rule", "color": "#a0a0a0", "strokeDash": [1, 2], "strokeWidth": 1},
              "encoding": {
                "y": {"field": "gap", "type": "quantitative", "scale": {"domain": [-0.578, 16.266], "reverse": true, "nice": false, "zero": false}, "axis": null}
              }
            },
            {
              "mark": {"type": "text", "align": "left", "clip": true, "font": "Liberation Sans", "fontSize": 17, "fontWeight": "bold", "color": "#000000"},
              "encoding": {
                "x": {"datum": 3, "type": "quantitative", "scale": {"domain": [0, 259], "nice": false, "zero": false},
                      "axis": {"orient": "top", "domain": true, "domainColor": "#a0a0a0", "labels": false, "ticks": false, "grid": false, "title": null}},
                "y": {"field": "row", "type": "quantitative", "scale": {"domain": [-0.578, 16.266], "reverse": true, "nice": false, "zero": false},
                      "axis": {"orient": "left", "domain": true, "domainColor": "#a0a0a0", "labels": false, "ticks": false, "grid": false, "title": null}},
                "text": {"field": "time"}
              }
            },
            {
              "mark": {"type": "text", "align": "left", "clip": true, "font": "Liberation Sans", "fontSize": 17, "fontWeight": "bold", "color": "#008a00"},
              "encoding": {
                "x": {"datum": 107, "type": "quantitative", "scale": {"domain": [0, 259], "nice": false, "zero": false}, "axis": null},
                "y": {"field": "row", "type": "quantitative", "scale": {"domain": [-0.578, 16.266], "reverse": true, "nice": false, "zero": false}, "axis": null},
                "text": {"field": "price"}
              }
            },
            {
              "mark": {"type": "text", "align": "left", "clip": true, "font": "Liberation Sans", "fontSize": 17, "fontWeight": "bold", "color": "#e0661a"},
              "encoding": {
                "x": {"datum": 241, "type": "quantitative", "scale": {"domain": [0, 259], "nice": false, "zero": false}, "axis": null},
                "y": {"field": "row", "type": "quantitative", "scale": {"domain": [-0.578, 16.266], "reverse": true, "nice": false, "zero": false}, "axis": null},
                "text": {"field": "vol"}
              }
            }
          ]
        }
      ]
    }
  ]
}
